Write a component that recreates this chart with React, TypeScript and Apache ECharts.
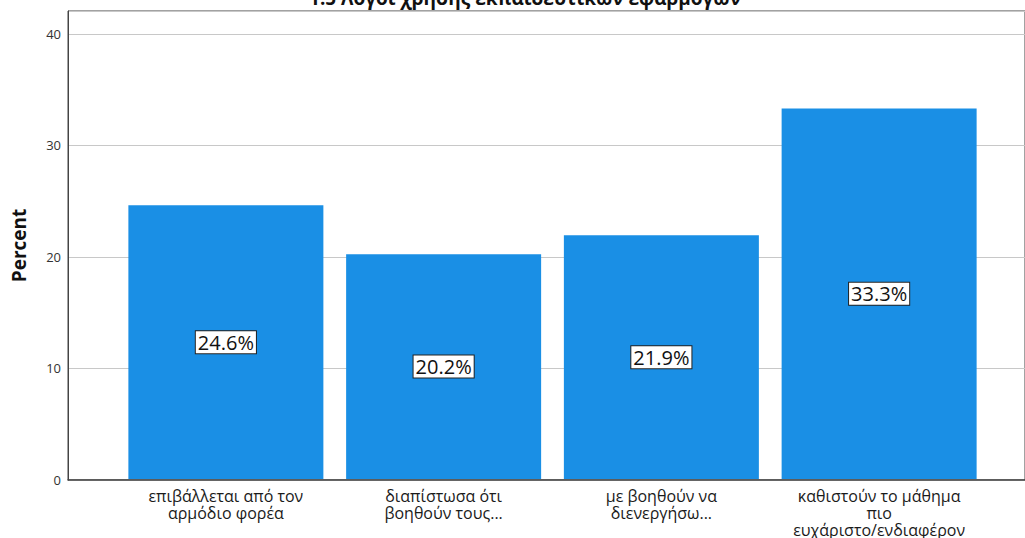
import React, { useEffect, useRef } from "react";
import * as echarts from "echarts";

const title = "1.5 Λόγοι χρήσης εκπαιδευτικών εφαρμογών";
const categories = [
  "επιβάλλεται από τον\nαρμόδιο φορέα",
  "διαπίστωσα ότι\nβοηθούν τους...",
  "με βοηθούν να\nδιενεργήσω...",
  "καθιστούν το μάθημα\nπιο\nευχάριστο/ενδιαφέρον",
];
const percents = [24.6, 20.2, 21.9, 33.3];
const yTicks = [0, 10, 20, 30, 40];

const FONT = "'Open Sans', 'Noto Sans', sans-serif";

export default function App() {
  const ref = useRef<HTMLDivElement>(null);
  useEffect(() => {
    const chart = echarts.init(ref.current!, undefined, { renderer: "svg" });
    const yMax = 42.06;
    chart.setOption({
      animation: false,
      title: {
        text: title,
        left: 520,
        textAlign: "center",
        top: -17,
        textStyle: { fontFamily: FONT, fontSize: 19, fontWeight: "bold", color: "#111" },
      },
      grid: [
        { left: 68, right: -5, top: 11, bottom: 58, show: true, borderColor: "#444", borderWidth: 1, backgroundColor: "transparent" },
        { left: 117, right: 37, top: 11, bottom: 58 },
      ],
      xAxis: [
        {
          type: "category",
          gridIndex: 0,
          data: [""],
          axisLine: { show: true, lineStyle: { color: "#444", width: 1.5 } },
          axisTick: { show: false },
          axisLabel: { show: false },
        },
        {
          type: "category",
          gridIndex: 1,
          data: categories,
          axisLine: { show: false },
          axisTick: { show: false },
          axisLabel: {
            fontFamily: FONT,
            fontSize: 16,
            color: "#1a1a1a",
            lineHeight: 17,
            margin: 8,
            interval: 0,
          },
        },
      ],
      yAxis: [
        {
          type: "value",
          gridIndex: 0,
          min: yTicks[0],
          max: yMax,
          interval: 10,
          name: "Percent",
          nameLocation: "middle",
          nameGap: 40,
          nameTextStyle: { fontFamily: FONT, fontSize: 19, fontWeight: "bold", color: "#111" },
          axisLine: { show: true, lineStyle: { color: "#444" } },
          axisTick: { show: false },
          axisLabel: {
            fontFamily: FONT,
            fontSize: 13,
            color: "#333",
            margin: 7,
            formatter: (v: number) => (yTicks.includes(v) ? String(v) : ""),
          },
          splitLine: { show: true, lineStyle: { color: "#c8c8c8", width: 1 } },
        },
        {
          type: "value",
          gridIndex: 1,
          min: 0,
          max: yMax,
          show: false,
          splitLine: { show: false },
        },
      ],
      series: [
        {
          type: "bar",
          xAxisIndex: 1,
          yAxisIndex: 1,
          data: percents,
          barWidth: 195,
          itemStyle: { color: "#1a8fe5" },
          label: {
            show: true,
            position: "inside",
            formatter: (p: any) => p.value.toFixed(1) + "%",
            fontFamily: FONT,
            fontSize: 20,
            color: "#111",
            backgroundColor: "#fff",
            borderColor: "#222",
            borderWidth: 1,
            padding: [2, 2, 0, 2],
          },
        },
      ],
    });
    return () => chart.dispose();
  }, []);
  return (
    <div
      ref={ref}
      style={{ position: "fixed", left: 0, top: 0, width: 1025, height: 538, background: "#fff" }}
    />
  );
}
